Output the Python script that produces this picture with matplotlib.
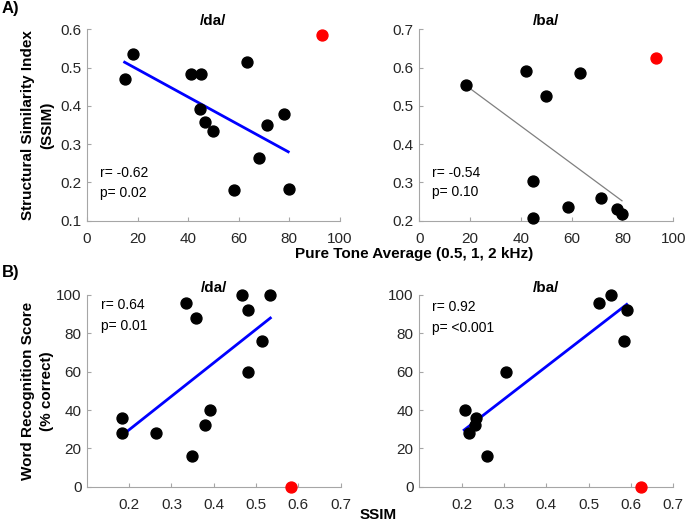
import numpy as np
import matplotlib
matplotlib.use("Agg")
import matplotlib.pyplot as plt

plt.rcParams['font.family'] = ['Liberation Sans', 'DejaVu Sans']

# A) pure tone average vs SSIM
pta_da = [14.9, 18.3, 41.3, 45.0, 44.9, 46.6, 50.0, 63.2, 58.3, 68.2, 71.4, 78.0, 79.9]
ssim_da = [0.469, 0.536, 0.484, 0.484, 0.392, 0.357, 0.334, 0.515, 0.180, 0.264, 0.349, 0.380, 0.182]
pta_da_out, ssim_da_out = 93.2, 0.584
fit_da_x = [14.9, 79.7]
fit_da_y = [0.514, 0.280]

pta_ba = [18.4, 41.9, 63.1, 50.0, 44.9, 44.9, 58.4, 71.7, 78.0, 79.8]
ssim_ba = [0.555, 0.592, 0.586, 0.526, 0.304, 0.207, 0.236, 0.260, 0.230, 0.217]
pta_ba_out, ssim_ba_out = 93.0, 0.624
fit_ba_x = [18.4, 79.8]
fit_ba_y = [0.553, 0.252]

# B) SSIM vs word recognition
wrs_ssim_da = [0.182, 0.184, 0.263, 0.334, 0.358, 0.348, 0.379, 0.392, 0.468, 0.482, 0.482, 0.514, 0.533]
wrs_da = [36, 28, 28, 96, 88, 16, 32, 40, 100, 92, 60, 76, 100]
wrs_da_out = (0.582, 0)
wrs_fit_da_x = [0.182, 0.534]
wrs_fit_da_y = [26.6, 88.0]

wrs_ssim_ba = [0.208, 0.217, 0.231, 0.235, 0.261, 0.304, 0.525, 0.554, 0.590, 0.584]
wrs_ba = [40, 28, 32, 36, 16, 60, 96, 100, 92, 76]
wrs_ba_out = (0.624, 0)
wrs_fit_ba_x = [0.206, 0.590]
wrs_fit_ba_y = [29.6, 95.1]

W, H = 685, 529
fig = plt.figure(figsize=(W / 100, H / 100), dpi=100)


def make_ax(x0, y_top, x1, y_bot):
    ax = fig.add_axes([x0 / W, 1 - y_bot / H, (x1 - x0) / W, (y_bot - y_top) / H])
    for s in ['top', 'right']:
        ax.spines[s].set_visible(False)
    for s in ['left', 'bottom']:
        ax.spines[s].set_color('#a6a6a6')
        ax.spines[s].set_linewidth(0.8)
    ax.tick_params(direction='in', length=3, width=0.8, color='#a6a6a6',
                   labelsize=11, labelcolor='#262626')
    ax.tick_params(axis='x', pad=8)
    ax.tick_params(axis='y', pad=4)
    return ax


def scatter(ax, x, y, xo, yo):
    ax.scatter(x, y, s=62, c='black', zorder=3, clip_on=False)
    ax.scatter([xo], [yo], s=62, c='#ff0000', zorder=3, clip_on=False)


ax1 = make_ax(87, 29.3, 339.5, 220.7)
ax1.plot(fit_da_x, fit_da_y, color='#0000ff', lw=2)
scatter(ax1, pta_da, ssim_da, pta_da_out, ssim_da_out)
ax1.set_xlim(0, 100)
ax1.set_ylim(0.1, 0.6)
ax1.set_xticks([0, 20, 40, 60, 80, 100])
ax1.set_yticks([0.1, 0.2, 0.3, 0.4, 0.5, 0.6])
ax1.set_title('/da/', fontsize=11, fontweight='bold', pad=3)
ax1.text(5, 0.225, 'r= -0.62', fontsize=10, va='center')
ax1.text(5, 0.173, 'p= 0.02', fontsize=10, va='center')
ax1.set_ylabel('Structural Similarity Index\n(SSIM)', fontsize=11, fontweight='bold',
               linespacing=1.5)
ax1.yaxis.set_label_coords(-0.13, 0.5)

ax2 = make_ax(419.3, 29.3, 673.3, 220.7)
ax2.plot(fit_ba_x, fit_ba_y, color='#808080', lw=0.9)
scatter(ax2, pta_ba, ssim_ba, pta_ba_out, ssim_ba_out)
ax2.set_xlim(0, 100)
ax2.set_ylim(0.2, 0.7)
ax2.set_xticks([0, 20, 40, 60, 80, 100])
ax2.set_yticks([0.2, 0.3, 0.4, 0.5, 0.6, 0.7])
ax2.set_title('/ba/', fontsize=11, fontweight='bold', pad=3)
ax2.text(5, 0.324, 'r= -0.54', fontsize=10, va='center')
ax2.text(5, 0.276, 'p= 0.10', fontsize=10, va='center')

ax3 = make_ax(87, 295, 340.5, 486.7)
ax3.plot(wrs_fit_da_x, wrs_fit_da_y, color='#0000ff', lw=2)
scatter(ax3, wrs_ssim_da, wrs_da, *wrs_da_out)
ax3.set_xlim(0.1, 0.7)
ax3.set_ylim(0, 100)
ax3.set_xticks([0.2, 0.3, 0.4, 0.5, 0.6, 0.7])
ax3.set_yticks([0, 20, 40, 60, 80, 100])
ax3.set_title('/da/', fontsize=11, fontweight='bold', pad=2)
ax3.text(0.133, 95, 'r= 0.64', fontsize=10, va='center')
ax3.text(0.133, 84, 'p= 0.01', fontsize=10, va='center')
ax3.set_ylabel('Word Recognition Score\n(% correct)', fontsize=11, fontweight='bold',
               linespacing=1.5)
ax3.yaxis.set_label_coords(-0.13, 0.5)

ax4 = make_ax(419.3, 295, 673.3, 486.7)
ax4.plot(wrs_fit_ba_x, wrs_fit_ba_y, color='#0000ff', lw=2)
scatter(ax4, wrs_ssim_ba, wrs_ba, *wrs_ba_out)
ax4.set_xlim(0.1, 0.7)
ax4.set_ylim(0, 100)
ax4.set_xticks([0.2, 0.3, 0.4, 0.5, 0.6, 0.7])
ax4.set_yticks([0, 20, 40, 60, 80, 100])
ax4.set_title('/ba/', fontsize=11, fontweight='bold', pad=2)
ax4.text(0.131, 94, 'r= 0.92', fontsize=10, va='center')
ax4.text(0.131, 83, 'p= <0.001', fontsize=10, va='center')

fig.text(414.5 / W, 1 - 254 / H, 'Pure Tone Average (0.5, 1, 2 kHz)', fontsize=11,
         fontweight='bold', ha='center', va='center')
fig.text(378 / W, 1 - 515 / H, 'SSIM', fontsize=11, fontweight='bold', ha='center', va='center')
fig.text(2 / W, 1 - 9 / H, 'A)', fontsize=12, fontweight='bold', va='center')
fig.text(2 / W, 1 - 272 / H, 'B)', fontsize=12, fontweight='bold', va='center')

fig.savefig('out.png', dpi=100)
